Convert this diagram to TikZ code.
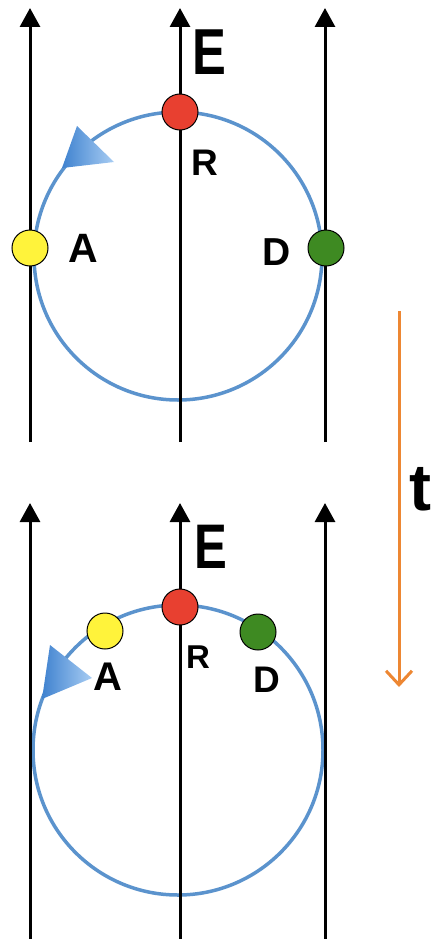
\documentclass[tikz,border=0pt]{standalone}
\usepackage{fontspec}
\usepackage{graphicx}
\setmainfont{Liberation Sans}
\usetikzlibrary{arrows.meta}
\definecolor{ringblue}{HTML}{5B93CD}
\definecolor{tipdark}{HTML}{3F82CF}
\definecolor{tiplight}{HTML}{A8CDF3}
\definecolor{timeorange}{HTML}{ED8733}
\definecolor{dotred}{HTML}{E84030}
\definecolor{dotyellow}{HTML}{FFF33B}
\definecolor{dotgreen}{HTML}{3E8A22}
\tikzset{
  field/.style={line width=3pt, -{Triangle[length=19pt,width=20pt]}},
  ring/.style={draw=ringblue, line width=3.5pt},
  dot/.style={circle, draw=black, line width=1pt, minimum size=36pt, inner sep=0pt},
  lbl/.style={inner sep=0pt, anchor=base, font=\bfseries},
  tipshade/.style={left color=tipdark, right color=tiplight, shading angle=90},
}
\begin{document}
\begin{tikzpicture}[x=1pt,y=-1pt]
\useasboundingbox (0,0) rectangle (431,939);
% ---------- top panel ----------
\coordinate (c1) at (178,256);
\draw[ring] (c1) circle[radius=144];
\shade[tipshade] (62,168) -- (77,126) -- (114,162) -- cycle;
\coordinate (l1b) at (30,442);  \coordinate (l1t) at (30,8);
\coordinate (m1b) at (180,442); \coordinate (m1t) at (180,8);
\coordinate (r1b) at (325,442); \coordinate (r1t) at (325,8);
\draw[field] (l1b) -- (l1t);
\draw[field] (m1b) -- (m1t);
\draw[field] (r1b) -- (r1t);
\node[dot, fill=dotred]    (R1) at (180,112) {};
\node[dot, fill=dotyellow] (A1) at (30,248) {};
\node[dot, fill=dotgreen]  (D1) at (326,248) {};
\node[lbl, font=\bfseries\fontsize{65}{70}\selectfont] (E1) at (209,75) {\scalebox{0.78}[1]{E}};
\node[lbl, font=\bfseries\fontsize{37}{40}\selectfont] (R1l) at (205,175) {R};
\node[lbl, font=\bfseries\fontsize{41}{44}\selectfont] (A1l) at (83,262) {A};
\node[lbl, font=\bfseries\fontsize{39}{42}\selectfont] (D1l) at (277,265) {D};
% ---------- time arrow ----------
\coordinate (t0) at (399,311);
\coordinate (t1) at (399,687);
\draw[timeorange, line width=3pt, -{Straight Barb[length=14pt,width=26pt]}] (t0) -- (t1);
\node[lbl, font=\bfseries\fontsize{66}{70}\selectfont] (T) at (420,510) {t};
% ---------- bottom panel ----------
\coordinate (c2) at (178,750);
\draw[ring] (c2) circle[radius=145];
\shade[tipshade] (42,699) -- (50,645) -- (92,678) -- cycle;
\coordinate (l2b) at (30,939);  \coordinate (l2t) at (30,503);
\coordinate (m2b) at (180,939); \coordinate (m2t) at (180,503);
\coordinate (r2b) at (325,939); \coordinate (r2t) at (325,503);
\draw[field] (l2b) -- (l2t);
\draw[field] (m2b) -- (m2t);
\draw[field] (r2b) -- (r2t);
\node[dot, fill=dotred]    (R2) at (180,607) {};
\node[dot, fill=dotyellow] (A2) at (105,631) {};
\node[dot, fill=dotgreen]  (D2) at (258,632) {};
\node[lbl, font=\bfseries\fontsize{63}{68}\selectfont] (E2) at (211,568) {\scalebox{0.78}[1]{E}};
\node[lbl, font=\bfseries\fontsize{33}{36}\selectfont] (R2l) at (198,668) {R};
\node[lbl, font=\bfseries\fontsize{40}{44}\selectfont] (A2l) at (108,690) {A};
\node[lbl, font=\bfseries\fontsize{37}{40}\selectfont] (D2l) at (267,692) {D};
\end{tikzpicture}
\end{document}
